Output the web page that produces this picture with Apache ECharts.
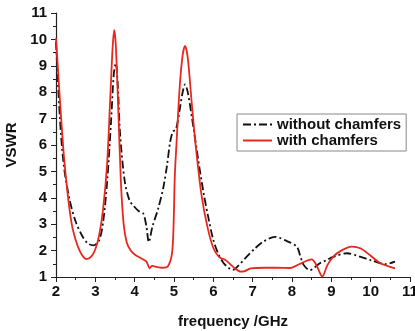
<!DOCTYPE html>
<html>
<head>
<meta charset="utf-8">
<script src="https://cdn.jsdelivr.net/npm/echarts@6/dist/echarts.min.js"></script>
<style>
  html, body { margin: 0; padding: 0; background: #fff; }
  #chart { width: 415px; height: 331px; }
</style>
</head>
<body>
<div id="chart"></div>
<script>
// frequency (GHz) / VSWR pairs
const freqWithout = [2.0, 2.1, 2.2, 2.35, 2.5, 2.65, 2.8, 2.95, 3.1, 3.2, 3.3, 3.4, 3.47, 3.52, 3.57, 3.63, 3.75, 3.87, 3.97, 4.1, 4.22, 4.3, 4.36, 4.45, 4.6, 4.73, 4.82, 4.9, 4.97, 5.05, 5.14, 5.22, 5.28, 5.35, 5.49, 5.62, 5.75, 5.88, 6.0, 6.12, 6.25, 6.4, 6.5, 6.65, 6.85, 7.05, 7.27, 7.57, 7.87, 8.12, 8.2, 8.3, 8.46, 8.58, 8.71, 8.85, 9.05, 9.4, 9.73, 10.0, 10.37, 10.62];
const vswrWithout = [9.9, 7.0, 5.2, 3.9, 3.1, 2.6, 2.28, 2.2, 2.4, 3.1, 4.6, 6.9, 8.7, 9.1, 8.3, 6.4, 4.6, 3.9, 3.7, 3.5, 3.4, 2.9, 2.32, 2.9, 3.6, 4.4, 5.2, 6.1, 6.5, 6.6, 7.3, 8.0, 8.3, 8.0, 6.7, 5.4, 4.2, 3.2, 2.4, 1.9, 1.55, 1.33, 1.27, 1.45, 1.77, 2.07, 2.34, 2.52, 2.36, 2.15, 1.85, 1.45, 1.26, 1.37, 1.52, 1.62, 1.76, 1.9, 1.77, 1.64, 1.49, 1.58];

const freqWith = [2.0, 2.1, 2.2, 2.3, 2.4, 2.5, 2.6, 2.7, 2.78, 2.9, 3.0, 3.1, 3.2, 3.3, 3.38, 3.44, 3.48, 3.52, 3.58, 3.65, 3.72, 3.8, 3.9, 4.0, 4.15, 4.3, 4.38, 4.44, 4.5, 4.7, 4.85, 4.95, 4.99, 5.02, 5.08, 5.15, 5.22, 5.28, 5.35, 5.45, 5.55, 5.7, 5.85, 6.0, 6.15, 6.3, 6.42, 6.55, 6.7, 6.8, 6.95, 7.3, 7.6, 7.95, 8.2, 8.5, 8.62, 8.77, 8.9, 9.05, 9.25, 9.52, 9.75, 9.98, 10.25, 10.62];
const vswrWith = [10.05, 7.7, 5.6, 4.1, 3.0, 2.4, 2.0, 1.75, 1.68, 1.78, 2.05, 2.6, 3.6, 5.3, 7.8, 9.7, 10.35, 9.8, 7.5, 4.6, 3.0, 2.3, 2.0, 1.85, 1.72, 1.58, 1.33, 1.42, 1.4, 1.35, 1.42, 1.9, 3.0, 4.8, 6.5, 8.3, 9.4, 9.75, 9.3, 7.6, 6.0, 4.1, 2.9, 2.1, 1.75, 1.65, 1.5, 1.32, 1.2, 1.22, 1.33, 1.35, 1.35, 1.34, 1.5, 1.67, 1.45, 1.02, 1.45, 1.77, 2.0, 2.15, 2.08, 1.83, 1.52, 1.33];

const seriesNames = ['without chamfers', 'with chamfers'];

const pairs = (xs, ys) => xs.map((x, i) => [x, ys[i]]);

const chart = echarts.init(document.getElementById('chart'));

const axisFont = { fontFamily: 'Liberation Sans', fontWeight: 'bold', fontSize: 15, color: '#111' };

const option = {
  animation: false,
  backgroundColor: '#fff',
  grid: { left: 56, right: 5, top: 13, bottom: 54, outerBoundsMode: 'none', containLabel: false },
  legend: {
    data: seriesNames,
    orient: 'vertical',
    left: 237,
    top: 114,
    padding: [3, 5],
    itemWidth: 29,
    itemHeight: 14,
    itemGap: 1,
    borderColor: '#888',
    borderWidth: 1,
    itemStyle: { opacity: 0 },
    textStyle: axisFont
  },
  xAxis: {
    type: 'value',
    min: 2,
    max: 11,
    interval: 1,
    name: 'frequency /GHz',
    nameLocation: 'middle',
    nameGap: 37,
    nameTextStyle: axisFont,
    axisLine: { lineStyle: { color: '#222', width: 1.2 } },
    axisTick: { inside: false, length: 5, lineStyle: { color: '#222' } },
    minorTick: { show: true, splitNumber: 2, length: 3, lineStyle: { color: '#222' } },
    axisLabel: Object.assign({ margin: 7 }, axisFont),
    splitLine: { show: false }
  },
  yAxis: {
    type: 'value',
    min: 1,
    max: 11,
    interval: 1,
    name: 'VSWR',
    nameLocation: 'middle',
    nameGap: 36,
    nameTextStyle: axisFont,
    axisLine: { show: true, lineStyle: { color: '#222', width: 1.2 } },
    axisTick: { show: true, inside: false, length: 5, lineStyle: { color: '#222' } },
    minorTick: { show: true, splitNumber: 2, length: 3, lineStyle: { color: '#222' } },
    axisLabel: Object.assign({ margin: 9 }, axisFont),
    splitLine: { show: false }
  },
  series: [
    {
      name: seriesNames[0],
      type: 'line',
      data: pairs(freqWithout, vswrWithout),
      smooth: 0.3,
      showSymbol: false,
      symbol: 'none',
      color: '#111',
      lineStyle: { color: '#111', width: 1.8, type: [8, 3, 2, 3] },
      z: 2
    },
    {
      name: seriesNames[1],
      type: 'line',
      data: pairs(freqWith, vswrWith),
      smooth: 0.3,
      showSymbol: false,
      symbol: 'none',
      color: '#e8281e',
      lineStyle: { color: '#e8281e', width: 1.8 },
      z: 3
    }
  ]
};

chart.setOption(option);
</script>
</body>
</html>
